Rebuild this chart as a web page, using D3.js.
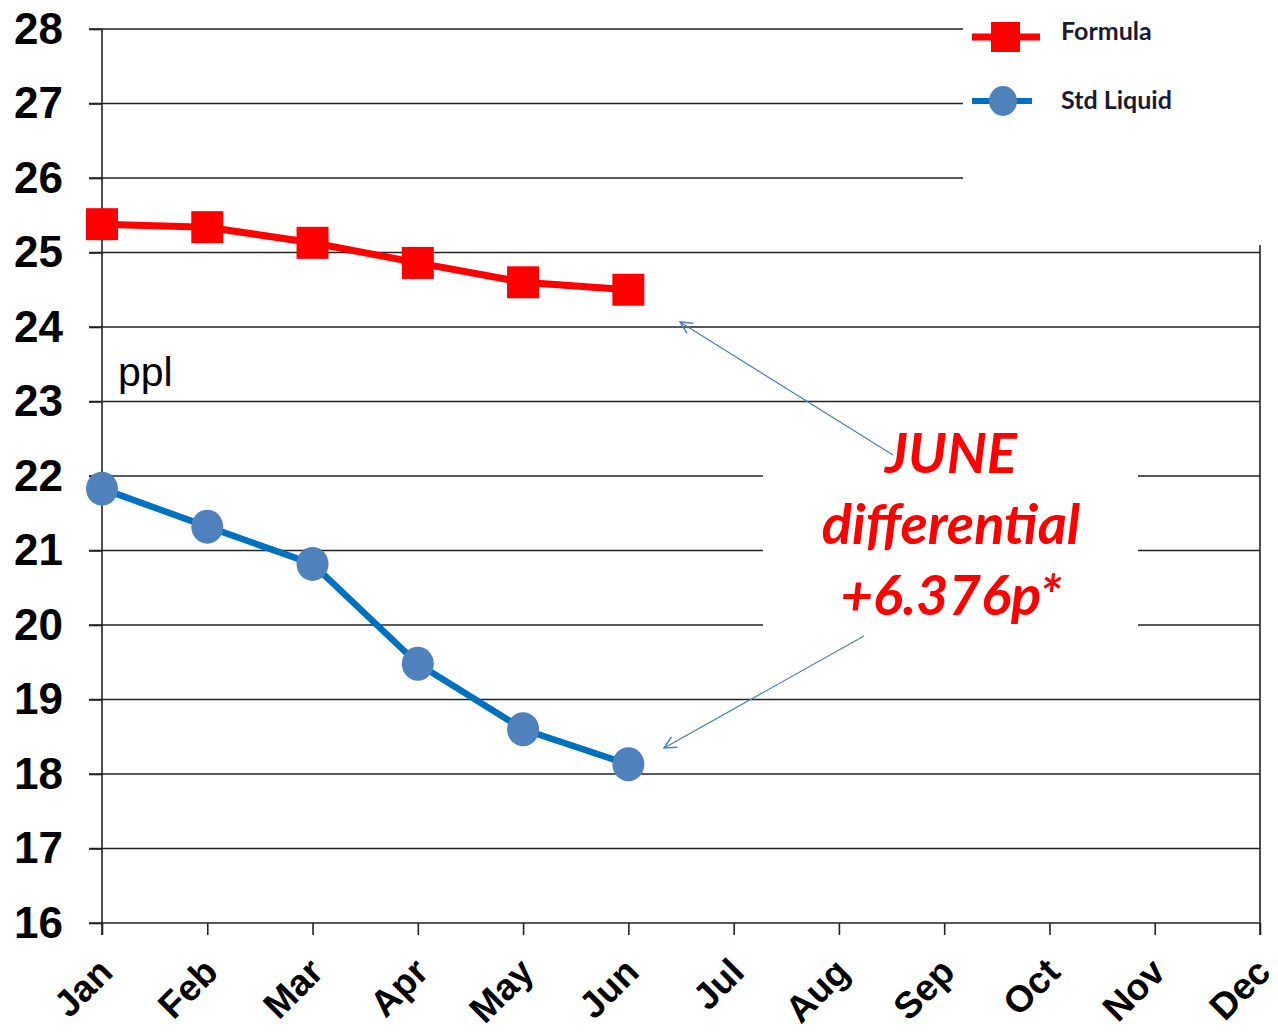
<!DOCTYPE html>
<html>
<head>
<meta charset="utf-8">
<style>
	body { margin: 0; background: white; }
	.grid { stroke: #222; stroke-width: 1.6; }
	.yaxis text { font-family: "Liberation Sans", Arial, sans-serif; font-weight: bold; font-size: 44px; fill: #000; }
	.xaxis text { font-family: "Liberation Sans", Arial, sans-serif; font-weight: bold; font-size: 37px; fill: #000; }
	.legend text { font-family: Lato, "Open Sans", sans-serif; font-weight: bold; font-size: 25px; fill: #1a1a33; }
	.note { font-family: Lato, "Open Sans", sans-serif; font-weight: bold; font-style: italic; font-size: 56px; fill: #ff0000; }
</style>
</head>
<body>
<svg width="1278" height="1033"></svg>

<script src="https://cdn.jsdelivr.net/npm/d3@7"></script>
<script>
const months = ["Jan","Feb","Mar","Apr","May","Jun","Jul","Aug","Sep","Oct","Nov","Dec"];
const formula = [25.38, 25.34, 25.13, 24.86, 24.60, 24.50];
const stdLiquid = [21.83, 21.32, 20.82, 19.48, 18.60, 18.13];
const yTicks = [16,17,18,19,20,21,22,23,24,25,26,27,28];
const noteLines = ["JUNE", "differential", "+6.376p*"];

var svg = d3.select("svg");

var x = d3.scalePoint().domain(months).range([102, 1260]);
var y = d3.scaleLinear().domain([16, 28]).range([923, 29]);

// gridlines (top three stop short of the legend)
svg.selectAll(".grid")
	.data(yTicks)
	.enter()
	.append("line")
		.attr("class", "grid")
		.attr("x1", 89)
		.attr("x2", d => d >= 26 ? 963 : 1260)
		.attr("y1", d => y(d))
		.attr("y2", d => y(d));

// white box behind the annotation
svg.append("rect")
	.attr("x", 763).attr("y", 420)
	.attr("width", 375).attr("height", 220)
	.attr("fill", "white");

// right border
svg.append("line")
	.attr("class", "grid")
	.attr("x1", 1260).attr("x2", 1260)
	.attr("y1", y(25.1)).attr("y2", y(16) + 12);

// y axis
var yAxis = svg.append("g")
	.attr("class", "yaxis")
	.attr("transform", "translate(102,0)")
	.call(d3.axisLeft(y).tickValues(yTicks).tickSize(13).tickPadding(26).tickFormat(d3.format("d")));
yAxis.select(".domain").remove();
yAxis.selectAll("line").attr("stroke", "#222").attr("stroke-width", 1.6);
yAxis.append("line")
	.attr("x1", 0).attr("x2", 0)
	.attr("y1", y(28)).attr("y2", y(16) + 12)
	.attr("stroke", "#222").attr("stroke-width", 1.6);

// x axis
var xAxis = svg.append("g")
	.attr("class", "xaxis")
	.attr("transform", "translate(0," + y(16) + ")")
	.call(d3.axisBottom(x).tickSize(12).tickPadding(8));
xAxis.select(".domain").remove();
xAxis.selectAll("line").attr("stroke", "#222").attr("stroke-width", 1.6);
xAxis.selectAll("text")
	.attr("text-anchor", "end")
	.attr("dy", null)
	.attr("transform", "translate(-2,37) rotate(-45)");

// lines
var line = d3.line()
	.x((d, i) => x(months[i]))
	.y(d => y(d));

svg.append("path")
	.datum(formula)
	.attr("fill", "none")
	.attr("stroke", "#ff0000")
	.attr("stroke-width", 7)
	.attr("d", line);

svg.selectAll(".fsq")
	.data(formula)
	.enter()
	.append("rect")
		.attr("class", "fsq")
		.attr("x", (d, i) => x(months[i]) - 16)
		.attr("y", d => y(d) - 16)
		.attr("width", 32)
		.attr("height", 32)
		.attr("fill", "#ff0000");

svg.append("path")
	.datum(stdLiquid)
	.attr("fill", "none")
	.attr("stroke", "#0070c0")
	.attr("stroke-width", 6.5)
	.attr("d", line);

svg.selectAll(".ldot")
	.data(stdLiquid)
	.enter()
	.append("ellipse")
		.attr("class", "ldot")
		.attr("cx", (d, i) => x(months[i]))
		.attr("cy", d => y(d))
		.attr("rx", 16)
		.attr("ry", 17)
		.attr("fill", "#4f81bd");

// ppl label
svg.append("text")
	.attr("x", 118).attr("y", 386)
	.style("font-family", "Liberation Sans, Arial, sans-serif")
	.style("font-size", "41px")
	.text("ppl");

// legend
var legend = svg.append("g").attr("class", "legend");
legend.append("line")
	.attr("x1", 972).attr("x2", 1040).attr("y1", 37).attr("y2", 37)
	.attr("stroke", "#ff0000").attr("stroke-width", 7);
legend.append("rect")
	.attr("x", 991).attr("y", 22).attr("width", 29).attr("height", 30)
	.attr("fill", "#ff0000");
legend.append("text").attr("x", 1061).attr("y", 40).text("Formula");
legend.append("line")
	.attr("x1", 972).attr("x2", 1032).attr("y1", 101).attr("y2", 101)
	.attr("stroke", "#0070c0").attr("stroke-width", 6);
legend.append("ellipse")
	.attr("cx", 1003).attr("cy", 101).attr("rx", 14).attr("ry", 15)
	.attr("fill", "#4f81bd");
legend.append("text").attr("x", 1061).attr("y", 109).text("Std Liquid");

// annotation arrows (open V heads)
svg.append("defs").append("marker")
	.attr("id", "arr")
	.attr("viewBox", "0 0 14 14")
	.attr("refX", 13).attr("refY", 7)
	.attr("markerWidth", 14).attr("markerHeight", 14)
	.attr("markerUnits", "userSpaceOnUse")
	.attr("orient", "auto")
	.append("path")
		.attr("d", "M1,1 L13,7 L1,13")
		.attr("fill", "none")
		.attr("stroke", "#4f81bd")
		.attr("stroke-width", 1.5);

svg.append("line")
	.attr("x1", 893).attr("y1", 455).attr("x2", 680).attr("y2", 322)
	.attr("stroke", "#4f81bd").attr("stroke-width", 1.3)
	.attr("marker-end", "url(#arr)");
svg.append("line")
	.attr("x1", 864).attr("y1", 636).attr("x2", 664).attr("y2", 748)
	.attr("stroke", "#4f81bd").attr("stroke-width", 1.3)
	.attr("marker-end", "url(#arr)");

// annotation text
svg.selectAll(".note")
	.data(noteLines)
	.enter()
	.append("text")
		.attr("class", "note")
		.attr("x", 951)
		.attr("y", (d, i) => 473 + i * 71)
		.attr("text-anchor", "middle")
		.text(d => d);
</script>
</body>
</html>
